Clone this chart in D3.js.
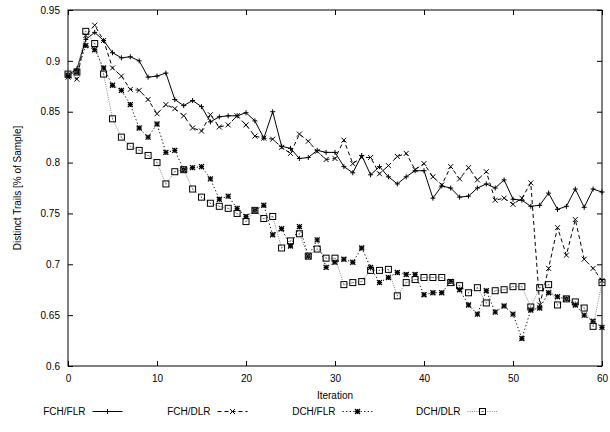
<!DOCTYPE html>
<html>
<head>
<meta charset="utf-8">
<script src="https://cdn.jsdelivr.net/npm/d3@7"></script>
<style>
  body { margin: 0; background: #fff; }
  svg text { font-family: "Liberation Sans", Arial, sans-serif; font-size: 10px; fill: #000; }
</style>
</head>
<body>
<div id="chart"></div>
<script>
// 数据
const iterations = d3.range(0, 61);
const xTicks = [0, 10, 20, 30, 40, 50, 60];
const yTicks = [0.6, 0.65, 0.7, 0.75, 0.8, 0.85, 0.9, 0.95];

const fchFlr = [
  0.886, 0.892, 0.921, 0.928, 0.920, 0.908, 0.903, 0.904, 0.900, 0.884,
  0.885, 0.888, 0.862, 0.856, 0.861, 0.855, 0.840, 0.845, 0.846, 0.846,
  0.849, 0.841, 0.824, 0.850, 0.816, 0.814, 0.804, 0.805, 0.812, 0.810,
  0.810, 0.796, 0.790, 0.807, 0.788, 0.796, 0.786, 0.779, 0.786, 0.792,
  0.792, 0.765, 0.777, 0.775, 0.766, 0.767, 0.775, 0.779, 0.775, 0.783,
  0.764, 0.763, 0.757, 0.758, 0.770, 0.754, 0.757, 0.774, 0.756, 0.774,
  0.771
];
const fchDlr = [
  0.884, 0.882, 0.925, 0.935, 0.920, 0.893, 0.885, 0.872, 0.871, 0.862,
  0.848, 0.857, 0.853, 0.846, 0.834, 0.831, 0.847, 0.835, 0.837, 0.846,
  0.837, 0.826, 0.824, 0.823, 0.815, 0.809, 0.828, 0.821, 0.811, 0.803,
  0.804, 0.822, 0.799, 0.805, 0.805, 0.789, 0.797, 0.806, 0.809, 0.793,
  0.799, 0.786, 0.778, 0.796, 0.784, 0.795, 0.783, 0.791, 0.763, 0.765,
  0.759, 0.765, 0.780, 0.660, 0.696, 0.736, 0.709, 0.744, 0.705, 0.696,
  0.684
];
const dchFlr = [
  0.886, 0.889, 0.915, 0.911, 0.893, 0.876, 0.871, 0.857, 0.834, 0.825,
  0.838, 0.810, 0.812, 0.793, 0.795, 0.796, 0.784, 0.764, 0.767, 0.755,
  0.747, 0.753, 0.758, 0.729, 0.735, 0.718, 0.737, 0.708, 0.724, 0.697,
  0.702, 0.705, 0.702, 0.716, 0.697, 0.682, 0.687, 0.692, 0.690, 0.690,
  0.670, 0.672, 0.672, 0.683, 0.675, 0.660, 0.651, 0.674, 0.653, 0.659,
  0.651, 0.627, 0.655, 0.657, 0.672, 0.668, 0.666, 0.660, 0.650, 0.644,
  0.638
];
const dchDlr = [
  0.887, 0.889, 0.929, 0.917, 0.887, 0.843, 0.825, 0.816, 0.812, 0.807,
  0.800, 0.779, 0.791, 0.793, 0.774, 0.766, 0.760, 0.757, 0.755, 0.750,
  0.742, 0.753, 0.745, 0.747, 0.716, 0.723, 0.730, 0.708, 0.715, 0.706,
  0.706, 0.680, 0.682, 0.683, 0.694, 0.694, 0.695, 0.669, 0.682, 0.685,
  0.687, 0.687, 0.687, 0.682, 0.679, 0.672, 0.677, 0.662, 0.674, 0.675,
  0.678, 0.678, 0.658, 0.677, 0.680, 0.660, 0.666, 0.663, 0.657, 0.639,
  0.682
];

const seriesNames = ["FCH/FLR", "FCH/DLR", "DCH/FLR", "DCH/DLR"];
const seriesValues = [fchFlr, fchDlr, dchFlr, dchDlr];

// 配置
const CHART_CONFIG = {
  width: 610,
  height: 432,
  plot: { left: 68, right: 602, top: 10, bottom: 366 },
  tickSize: 5
};

// 每条线的样式
const STYLES = [
  { dash: null, stroke: "#000", marker: "plus" },
  { dash: "4,3", stroke: "#000", marker: "cross" },
  { dash: "1.2,2.4", stroke: "#000", marker: "star" },
  { dash: "1,1.2", stroke: "#888", marker: "square" }
];

const svg = d3.select("#chart").append("svg")
  .attr("width", CHART_CONFIG.width)
  .attr("height", CHART_CONFIG.height);

const P = CHART_CONFIG.plot;

const x = d3.scaleLinear().domain([0, 60]).range([P.left, P.right]);
const y = d3.scaleLinear().domain([0.6, 0.95]).range([P.bottom, P.top]);

// 标记
function drawMarker(g, type, cx, cy) {
  const s = 2.5;
  const w = type === "star" ? 1.3 : 1;
  if (type === "plus" || type === "star") {
    g.append("path")
      .attr("d", `M${cx - s},${cy}H${cx + s}M${cx},${cy - s}V${cy + s}`)
      .attr("stroke", "#000").attr("stroke-width", w).attr("fill", "none");
  }
  if (type === "cross" || type === "star") {
    g.append("path")
      .attr("d", `M${cx - s},${cy - s}L${cx + s},${cy + s}M${cx - s},${cy + s}L${cx + s},${cy - s}`)
      .attr("stroke", "#000").attr("stroke-width", w).attr("fill", "none");
  }
  if (type === "square") {
    g.append("rect")
      .attr("x", cx - 3).attr("y", cy - 3)
      .attr("width", 6).attr("height", 6)
      .attr("stroke", "#000").attr("stroke-width", 1).attr("fill", "none");
    g.append("rect")
      .attr("x", cx - 0.5).attr("y", cy - 0.5)
      .attr("width", 1).attr("height", 1)
      .attr("fill", "#555");
  }
}

// 坐标轴和边框
function drawAxes() {
  const t = CHART_CONFIG.tickSize;
  const g = svg.append("g");

  // 下
  g.append("g")
    .attr("transform", `translate(0,${P.bottom})`)
    .call(d3.axisBottom(x).tickValues(xTicks).tickSize(-t).tickPadding(t + 4).tickFormat(d3.format("d")))
    .call(a => a.select(".domain").remove());
  // 上
  g.append("g")
    .attr("transform", `translate(0,${P.top})`)
    .call(d3.axisTop(x).tickValues(xTicks).tickSize(-t).tickFormat(""))
    .call(a => a.select(".domain").remove());
  // 左
  g.append("g")
    .attr("transform", `translate(${P.left},0)`)
    .call(d3.axisLeft(y).tickValues(yTicks).tickSize(-t).tickPadding(t + 3).tickFormat(d => String(d)))
    .call(a => a.select(".domain").remove());
  // 右
  g.append("g")
    .attr("transform", `translate(${P.right},0)`)
    .call(d3.axisRight(y).tickValues(yTicks).tickSize(-t).tickFormat(""))
    .call(a => a.select(".domain").remove());

  g.selectAll(".tick line").attr("stroke", "#000");
  g.selectAll(".tick text")
    .style("font-family", "'Liberation Sans', Arial, sans-serif")
    .style("font-size", "10px")
    .attr("fill", "#000");

  g.append("rect")
    .attr("x", P.left).attr("y", P.top)
    .attr("width", P.right - P.left).attr("height", P.bottom - P.top)
    .attr("fill", "none").attr("stroke", "#000").attr("stroke-width", 1);

  svg.append("text")
    .attr("x", (P.left + P.right) / 2)
    .attr("y", 399)
    .attr("text-anchor", "middle")
    .text("Iteration");

  svg.append("text")
    .attr("transform", `translate(21,${(P.top + P.bottom) / 2}) rotate(-90)`)
    .attr("text-anchor", "middle")
    .text("Distinct Trails [% of Sample]");
}

// 折线
function drawSeries() {
  const line = d3.line()
    .x((d, i) => x(iterations[i]))
    .y(d => y(d));

  seriesValues.forEach((values, k) => {
    const st = STYLES[k];
    const g = svg.append("g").attr("class", "series");
    g.append("path")
      .datum(values)
      .attr("d", line)
      .attr("fill", "none")
      .attr("stroke", st.stroke)
      .attr("stroke-width", 1)
      .attr("stroke-dasharray", st.dash);
    values.forEach((v, i) => drawMarker(g, st.marker, x(iterations[i]), y(v)));
  });
}

// 图例
function drawLegend() {
  const baseY = 415;
  seriesNames.forEach((name, k) => {
    const st = STYLES[k];
    const textEnd = 85.5 + 125 * k;
    const x0 = textEnd + 7;
    const g = svg.append("g");
    g.append("text")
      .attr("x", textEnd).attr("y", baseY)
      .attr("text-anchor", "end")
      .text(name);
    g.append("line")
      .attr("x1", x0).attr("x2", x0 + 30)
      .attr("y1", baseY - 3.5).attr("y2", baseY - 3.5)
      .attr("stroke", st.stroke)
      .attr("stroke-width", 1)
      .attr("stroke-dasharray", st.dash);
    drawMarker(g, st.marker, x0 + 15, baseY - 3.5);
  });
}

drawAxes();
drawSeries();
drawLegend();
</script>
</body>
</html>
